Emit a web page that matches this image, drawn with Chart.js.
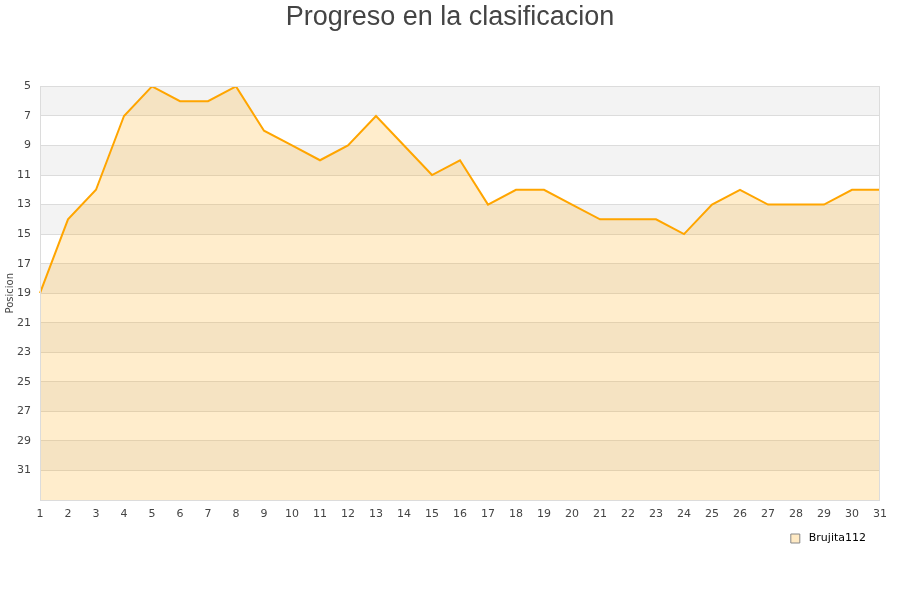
<!DOCTYPE html>
<html>
<head>
<meta charset="utf-8">
<script src="https://cdn.jsdelivr.net/npm/chart.js@4.4.0/dist/chart.umd.min.js"></script>
<style>
html,body{margin:0;padding:0;background:#fff;}
#wrap{width:900px;height:600px;}
</style>
</head>
<body>
<div id="wrap"><canvas id="c" width="900" height="600"></canvas></div>
<script>
const jornadas = ["1","2","3","4","5","6","7","8","9","10","11","12","13","14","15","16","17","18","19","20","21","22","23","24","25","26","27","28","29","30","31"];
const posiciones = [19,14,12,7,5,6,6,5,8,9,10,9,7,9,11,10,13,12,12,13,14,14,14,15,13,12,13,13,13,12,12];
const serieNombre = "Brujita112";
const tituloTexto = "Progreso en la clasificacion";
const ejeYTitulo = "Posicion";
const yMin = 5, yMax = 33, yStep = 2;

const bandsPlugin = {
  id: 'bands',
  afterLayout(chart) {
    // center the title over the whole canvas
    if (chart.titleBlock) { chart.titleBlock.left = 0; chart.titleBlock.right = chart.width; }
  },
  beforeDraw(chart) {
    const {ctx, chartArea: a, scales: {y}} = chart;
    ctx.save();
    ctx.fillStyle = '#fff';
    ctx.fillRect(0, 0, chart.width, chart.height);
    let i = 0;
    for (let v = yMin; v < yMax; v += yStep, i++) {
      if (i % 2 === 0) {
        const p1 = y.getPixelForValue(v), p2 = y.getPixelForValue(v + yStep);
        ctx.fillStyle = '#f3f3f3';
        ctx.fillRect(a.left, Math.min(p1, p2), a.right - a.left, Math.abs(p2 - p1));
      }
    }
    ctx.restore();
  },
  afterDatasetsDraw(chart) {
    const {ctx, chartArea: a} = chart;
    ctx.save();
    ctx.strokeStyle = '#dcdcdc';
    ctx.lineWidth = 1;
    ctx.strokeRect(Math.round(a.left) + 0.5, Math.round(a.top) + 0.5, Math.round(a.right - a.left) - 1, Math.round(a.bottom - a.top));
    ctx.restore();
  }
};

new Chart(document.getElementById('c'), {
  type: 'line',
  data: {
    labels: jornadas,
    datasets: [{
      label: serieNombre,
      data: posiciones,
      borderColor: '#ffa500',
      borderWidth: 2,
      backgroundColor: 'rgba(255,165,0,0.2)',
      fill: {value: yMax},
      pointRadius: 0,
      tension: 0
    }]
  },
  options: {
    responsive: false,
    animation: false,
    devicePixelRatio: 1,
    layout: {padding: {left: 0, right: 20, top: 0, bottom: 46}},
    plugins: {
      title: {
        display: true,
        text: tituloTexto,
        color: '#444',
        font: {family: 'Liberation Sans, Arial, sans-serif', size: 27, weight: 'normal'},
        padding: {top: 1, bottom: 53}
      },
      legend: {
        position: 'bottom',
        align: 'end',
        labels: {
          boxWidth: 9,
          boxHeight: 9,
          padding: 14,
          color: '#000',
          font: {family: 'DejaVu Sans', size: 11},
          generateLabels(chart) {
            return [{text: ' ' + serieNombre, fillStyle: '#ffeac4', strokeStyle: '#888', lineWidth: 1, datasetIndex: 0}];
          }
        }
      },
      tooltip: {enabled: false}
    },
    scales: {
      x: {
        offset: false,
        grid: {display: false},
        border: {display: false},
        ticks: {color: '#444', font: {family: 'DejaVu Sans', size: 11}, maxRotation: 0, autoSkip: false, padding: 0},
        afterFit(s) { s.height = 19; }
      },
      y: {
        reverse: true,
        min: yMin,
        max: yMax,
        grid: {color: '#dcdcdc', drawTicks: false},
        border: {display: false},
        ticks: {
          stepSize: yStep,
          color: '#444',
          font: {family: 'DejaVu Sans', size: 11},
          padding: 9,
          callback: (v) => v === yMax ? '' : v
        },
        title: {display: true, text: ejeYTitulo, color: '#444', font: {family: 'DejaVu Sans', size: 10}, padding: {top: 4, bottom: 0}},
        afterFit(s) { s.width = 40; }
      }
    }
  },
  plugins: [bandsPlugin]
});
</script>
</body>
</html>
